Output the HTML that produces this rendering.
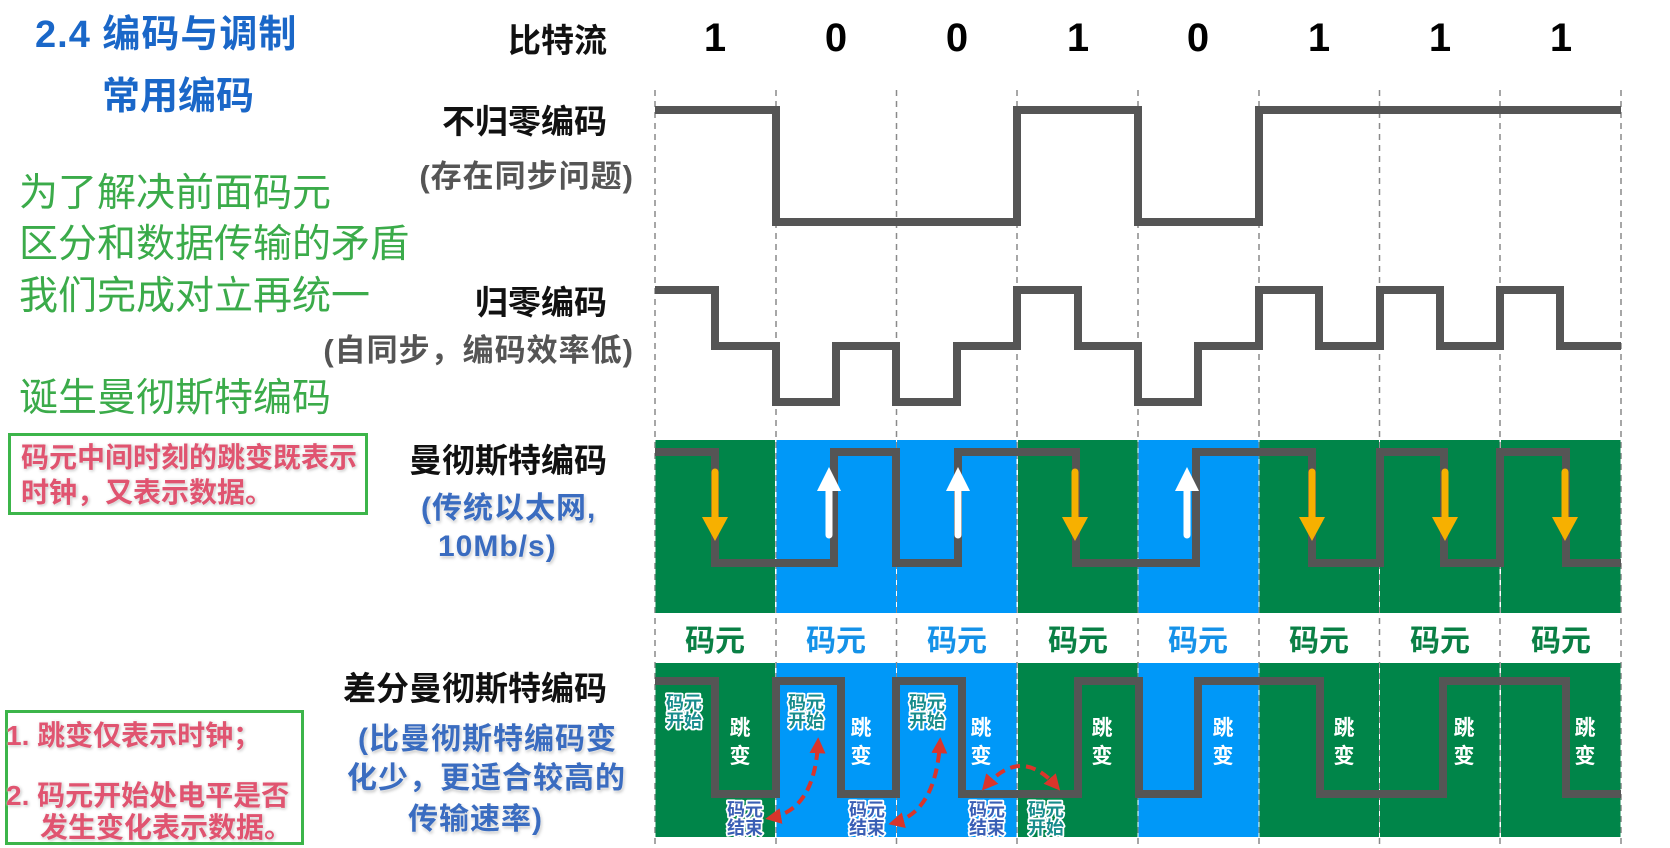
<!DOCTYPE html>
<html><head><meta charset="utf-8">
<style>
html,body{margin:0;padding:0;background:#fff;}
body{width:1670px;height:848px;position:relative;overflow:hidden;font-family:"Liberation Sans","Noto Sans CJK SC",sans-serif;}
.t{position:absolute;white-space:nowrap;}
.b{font-weight:700;}
.g{color:#3bab4a;font-size:39px;line-height:39px;left:19px;font-weight:400;}
.k{color:#111;font-size:33px;line-height:33px;font-weight:700;right:1063px;text-align:right;}
.p{color:#555;font-size:31px;line-height:31px;font-weight:700;right:1036px;text-align:right;letter-spacing:1px;}
.bl{color:#3a6cc0;font-size:30px;line-height:30px;font-weight:700;letter-spacing:1px;text-shadow:0 0 2px #fff,1px 2px 3px rgba(0,0,0,0.25);}
.pk{color:#e05470;font-size:28px;line-height:28px;font-weight:700;text-shadow:0 0 2px #fff,1px 1px 3px rgba(0,0,0,0.3);}
.box{position:absolute;box-sizing:border-box;border:3px solid #3cb54a;}
</style></head><body>
<svg width="1670" height="848" viewBox="0 0 1670 848" style="position:absolute;left:0;top:0" xmlns="http://www.w3.org/2000/svg">
<defs>
<marker id="ah" viewBox="0 0 10 10" refX="7" refY="5" markerWidth="4" markerHeight="4" orient="auto-start-reverse" markerUnits="strokeWidth"><path d="M0,0 L10,5 L0,10 z" fill="#d9352b"/></marker>
</defs>
<g stroke="#8a8a8a" stroke-width="1.5" stroke-dasharray="6 5">
<line x1="655" y1="90" x2="655" y2="845"/>
<line x1="776" y1="90" x2="776" y2="845"/>
<line x1="896.5" y1="90" x2="896.5" y2="845"/>
<line x1="1017" y1="90" x2="1017" y2="845"/>
<line x1="1138" y1="90" x2="1138" y2="845"/>
<line x1="1259" y1="90" x2="1259" y2="845"/>
<line x1="1379.5" y1="90" x2="1379.5" y2="845"/>
<line x1="1500" y1="90" x2="1500" y2="845"/>
<line x1="1621" y1="90" x2="1621" y2="845"/>
</g>
<g>
<rect x="655.5" y="440" width="119.5" height="173" fill="#008549"/>
<rect x="776.5" y="440" width="119.5" height="173" fill="#0098f8"/>
<rect x="897" y="440" width="119.5" height="173" fill="#0098f8"/>
<rect x="1018" y="440" width="119.5" height="173" fill="#008549"/>
<rect x="1138.5" y="440" width="120" height="173" fill="#0098f8"/>
<rect x="1259.5" y="440" width="119.5" height="173" fill="#008549"/>
<rect x="1380" y="440" width="119.5" height="173" fill="#008549"/>
<rect x="1501" y="440" width="119.5" height="173" fill="#008549"/>
</g>
<g>
<rect x="655.5" y="663" width="119.5" height="174" fill="#008549"/>
<rect x="776.5" y="663" width="119.5" height="174" fill="#0098f8"/>
<rect x="897" y="663" width="119.5" height="174" fill="#0098f8"/>
<rect x="1018" y="663" width="119.5" height="174" fill="#008549"/>
<rect x="1138.5" y="663" width="120" height="174" fill="#0098f8"/>
<rect x="1259.5" y="663" width="119.5" height="174" fill="#008549"/>
<rect x="1380" y="663" width="119.5" height="174" fill="#008549"/>
<rect x="1501" y="663" width="119.5" height="174" fill="#008549"/>
</g>
<g font-family="Liberation Sans, sans-serif" font-weight="700" font-size="40" fill="#000" text-anchor="middle" dominant-baseline="central">
<text x="715" y="38">1</text>
<text x="836" y="38">0</text>
<text x="957" y="38">0</text>
<text x="1078" y="38">1</text>
<text x="1198" y="38">0</text>
<text x="1319" y="38">1</text>
<text x="1440" y="38">1</text>
<text x="1561" y="38">1</text>
</g>
<g fill="none" stroke="#555" stroke-width="8" stroke-linejoin="miter" stroke-linecap="butt">
<path d="M655,110 H776 V222 H1017 V110 H1138 V222 H1259 V110 H1621"/>
<path d="M655,290 H715 V346 H776 V402 H836 V346 H896 V402 H957 V346 H1017 V290 H1078 V346 H1138 V402 H1198 V346 H1259 V290 H1319 V346 H1380 V290 H1440 V346 H1500 V290 H1560 V346 H1621"/>
<path d="M655,452 H715 V563 H834 V452 H896 V563 H958 V452 H1076 V563 H1196 V452 H1312 V563 H1380 V452 H1444 V563 H1500 V452 H1566 V563 H1621"/>
<path d="M655,681 H715 V794 H776 V681 H841 V794 H896 V681 H962 V794 H1078 V681 H1139 V794 H1198 V681 H1320 V794 H1443 V681 H1566 V794 H1621"/>
</g>
<g stroke="#f7b000" stroke-width="7" stroke-linecap="round">
<path d="M715,472 V520"/><path d="M1075,472 V520"/><path d="M1312,472 V520"/><path d="M1445,472 V520"/><path d="M1565,472 V520"/>
</g>
<g fill="#f7b000">
<polygon points="702,517 728,517 715,541"/>
<polygon points="1062,517 1088,517 1075,541"/>
<polygon points="1299,517 1325,517 1312,541"/>
<polygon points="1432,517 1458,517 1445,541"/>
<polygon points="1552,517 1578,517 1565,541"/>
</g>
<g stroke="#fff" stroke-width="7" stroke-linecap="round">
<path d="M829,488 V535"/><path d="M958,488 V535"/><path d="M1187,488 V535"/>
</g>
<g fill="#fff">
<polygon points="829,467 817,491 841,491"/>
<polygon points="958,467 946,491 970,491"/>
<polygon points="1187,467 1175,491 1199,491"/>
</g>
<g font-family="Noto Sans CJK SC, sans-serif" font-weight="700" font-size="30" text-anchor="middle" dominant-baseline="central">
<text x="715" y="638" fill="#0a8045">码元</text>
<text x="836" y="638" fill="#1592e8">码元</text>
<text x="957" y="638" fill="#1592e8">码元</text>
<text x="1078" y="638" fill="#0a8045">码元</text>
<text x="1198" y="638" fill="#1592e8">码元</text>
<text x="1319" y="638" fill="#0a8045">码元</text>
<text x="1440" y="638" fill="#0a8045">码元</text>
<text x="1561" y="638" fill="#0a8045">码元</text>
</g>
<g font-family="Noto Sans CJK SC, sans-serif" font-weight="700" font-size="21" fill="#fff" text-anchor="middle" dominant-baseline="central">
<text x="740" y="727">跳</text><text x="740" y="755">变</text>
<text x="861" y="727">跳</text><text x="861" y="755">变</text>
<text x="981" y="727">跳</text><text x="981" y="755">变</text>
<text x="1102" y="727">跳</text><text x="1102" y="755">变</text>
<text x="1223" y="727">跳</text><text x="1223" y="755">变</text>
<text x="1344" y="727">跳</text><text x="1344" y="755">变</text>
<text x="1464" y="727">跳</text><text x="1464" y="755">变</text>
<text x="1585" y="727">跳</text><text x="1585" y="755">变</text>
</g>
<g font-family="Noto Sans CJK SC, sans-serif" font-weight="700" font-size="18" text-anchor="middle" dominant-baseline="central" stroke="#fff" stroke-width="3.5" paint-order="stroke" stroke-linejoin="round">
<g fill="#178c8c">
<text x="684" y="702">码元</text><text x="684" y="720">开始</text>
<text x="806" y="702">码元</text><text x="806" y="720">开始</text>
<text x="927" y="702">码元</text><text x="927" y="720">开始</text>
<text x="1046" y="809">码元</text><text x="1046" y="827">开始</text>
</g>
<g fill="#3a5fb5">
<text x="745" y="809">码元</text><text x="745" y="827">结束</text>
<text x="867" y="809">码元</text><text x="867" y="827">结束</text>
<text x="987" y="809">码元</text><text x="987" y="827">结束</text>
</g>
</g>
<g fill="none" stroke="#d9352b" stroke-width="4" stroke-dasharray="10 6" marker-start="url(#ah)" marker-end="url(#ah)">
<path d="M770,818 Q815,810 818,742"/>
<path d="M893,823 Q936,812 940,742"/>
<path d="M985,787 Q1021,745 1057,787"/>
</g>
</svg>

<div class="t b" style="left:35px;top:16px;font-size:38px;line-height:38px;color:#1a67c8;letter-spacing:1px">2.4 编码与调制</div>
<div class="t b" style="left:102px;top:78px;font-size:38px;line-height:38px;color:#1a67c8">常用编码</div>

<div class="t g" style="top:174px">为了解决前面码元</div>
<div class="t g" style="top:225px">区分和数据传输的矛盾</div>
<div class="t g" style="top:277px">我们完成对立再统一</div>
<div class="t g" style="top:379px">诞生曼彻斯特编码</div>

<div class="t k" style="top:24px">比特流</div>
<div class="t k" style="top:105px">不归零编码</div>
<div class="t p" style="top:161px">(存在同步问题)</div>
<div class="t k" style="top:286px">归零编码</div>
<div class="t p" style="top:335px">(自同步，编码效率低)</div>
<div class="t k" style="top:444px">曼彻斯特编码</div>
<div class="t bl" style="left:421px;top:494px">(传统以太网,</div>
<div class="t bl" style="left:438px;top:532px">10Mb/s)</div>

<div class="box" style="left:8px;top:433px;width:360px;height:82px"></div>
<div class="t pk" style="left:21px;top:444px">码元中间时刻的跳变既表示</div>
<div class="t pk" style="left:21px;top:479px">时钟，又表示数据。</div>

<div class="t k" style="top:672px">差分曼彻斯特编码</div>
<div class="t bl" style="left:358px;top:725px">(比曼彻斯特编码变</div>
<div class="t bl" style="left:347px;top:764px">化少，更适合较高的</div>
<div class="t bl" style="left:408px;top:805px">传输速率)</div>

<div class="box" style="left:5px;top:710px;width:299px;height:135px"></div>
<div class="t pk" style="left:6px;top:722px">1. 跳变仅表示时钟；</div>
<div class="t pk" style="left:6px;top:782px">2. 码元开始处电平是否</div>
<div class="t pk" style="left:40px;top:814px">发生变化表示数据。</div>
</body></html>
